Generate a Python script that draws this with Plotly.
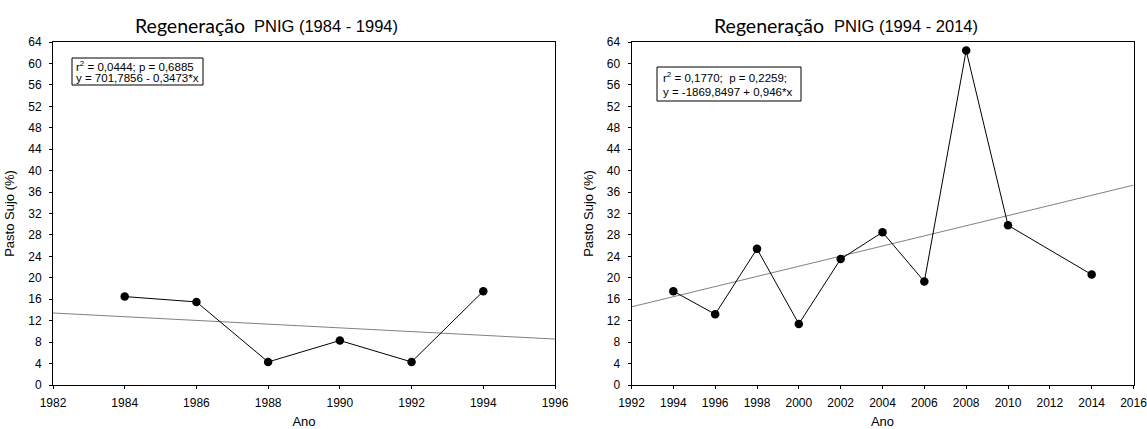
import plotly.graph_objects as go

# Left panel data (1984 - 1994)
years_a = [1984, 1986, 1988, 1990, 1992, 1994]
vals_a = [16.5, 15.5, 4.3, 8.3, 4.3, 17.5]
fit_a = (701.7856, -0.3473)  # intercept, slope
xrange_a = [1982, 1996]

# Right panel data (1994 - 2014)
years_b = [1994, 1996, 1998, 2000, 2002, 2004, 2006, 2008, 2010, 2014]
vals_b = [17.5, 13.2, 25.4, 11.4, 23.5, 28.5, 19.3, 62.4, 29.8, 20.6]
fit_b = (-1869.8497, 0.946)
xrange_b = [1992, 2016]

yrange = [0, 64]
ytick_vals = list(range(0, 65, 4))

title_main = "Regeneração"
titles = ["PNIG (1984 - 1994)", "PNIG (1994 - 2014)"]
stat_line1 = ["r<sup>2</sup> = 0,0444; p = 0,6885", "r<sup>2</sup> = 0,1770;  p = 0,2259;"]
stat_line2 = ["y = 701,7856 - 0,3473*x", "y = -1869,8497 + 0,946*x"]

ARIAL = "Liberation Sans, Arial, sans-serif"
W, H = 1147, 429

def px(x):
    return x / W

def py(y):
    return 1 - y / H

fig = go.Figure()

for i, (yrs, vals, fit, xr) in enumerate([(years_a, vals_a, fit_a, xrange_a),
                                         (years_b, vals_b, fit_b, xrange_b)]):
    xa = "x" if i == 0 else "x2"
    ya = "y" if i == 0 else "y2"
    fx = [xr[0], xr[1]]
    fy = [fit[0] + fit[1] * v for v in fx]
    fig.add_trace(go.Scatter(x=fx, y=fy, mode="lines", xaxis=xa, yaxis=ya,
                             line=dict(color="#808080", width=1), showlegend=False,
                             hoverinfo="skip"))
    fig.add_trace(go.Scatter(x=yrs, y=vals, mode="lines+markers", xaxis=xa, yaxis=ya,
                             line=dict(color="black", width=1),
                             marker=dict(color="black", size=8.5), showlegend=False))

font_tick = dict(family=ARIAL, size=12, color="black")
axis_common = dict(showline=True, mirror=True, linecolor="black", linewidth=1,
                   ticks="outside", ticklen=3, tickcolor="black", tickwidth=1,
                   showgrid=False, zeroline=False, tickfont=font_tick, automargin=False,
                   ticklabeloverflow="allow",
                   title_font=dict(family=ARIAL, size=13, color="black"))

Y0, Y1 = py(385), py(42)
fig.update_layout(
    template="none",
    width=W, height=H, margin=dict(l=0, r=0, t=0, b=0, pad=0), autosize=False,
    paper_bgcolor="white", plot_bgcolor="white",
    font=dict(family=ARIAL, color="black"),
    xaxis=dict(domain=[px(53), px(555)], range=xrange_a, tickmode="linear", tick0=1982, dtick=2,
               ticklabelstandoff=4, title=dict(text="Ano", standoff=8), anchor="y", **axis_common),
    yaxis=dict(domain=[Y0, Y1], range=yrange, tickvals=ytick_vals, ticklabelstandoff=5,
               title=dict(text="Pasto Sujo (%)", standoff=10), anchor="x", **axis_common),
    xaxis2=dict(domain=[px(631.5), px(1133.5)], range=xrange_b, tickmode="linear", tick0=1992, dtick=2,
                ticklabelstandoff=4, title=dict(text="Ano", standoff=8), anchor="y2", **axis_common),
    yaxis2=dict(domain=[Y0, Y1], range=yrange, tickvals=ytick_vals, ticklabelstandoff=5,
                title=dict(text="Pasto Sujo (%)", standoff=10), anchor="x2", **axis_common),
)

# Titles (two fonts)
main_left = [133, 712]
sub_left = [252, 832]
for i in range(2):
    fig.add_annotation(x=px(main_left[i]), y=py(25.5), xref="paper", yref="paper", showarrow=False,
                       text=title_main, font=dict(family="Lato, sans-serif", size=19.5, color="black"),
                       xanchor="left", yanchor="middle")
    fig.add_annotation(x=px(sub_left[i]), y=py(26), xref="paper", yref="paper", showarrow=False,
                       text=titles[i], font=dict(family=ARIAL, size=16.5, color="black"),
                       xanchor="left", yanchor="middle")

# Statistics boxes
boxes = [(72, 58, 203, 85), (657, 67, 801, 101)]
line_y = [(66.0, 78.5), (76.5, 92.5)]
text_x = [74, 661]
for i in range(2):
    x0, y0, x1, y1 = boxes[i]
    fig.add_shape(type="rect", xref="paper", yref="paper", x0=px(x0), x1=px(x1), y0=py(y0), y1=py(y1),
                  line=dict(color="black", width=1), fillcolor="white", layer="above")
    fig.add_annotation(x=px(text_x[i]), y=py(line_y[i][0]), xref="paper", yref="paper", showarrow=False,
                       text=stat_line1[i], xanchor="left", yanchor="middle",
                       font=dict(family=ARIAL, size=11.5, color="black"))
    fig.add_annotation(x=px(text_x[i]), y=py(line_y[i][1]), xref="paper", yref="paper", showarrow=False,
                       text=stat_line2[i], xanchor="left", yanchor="middle",
                       font=dict(family=ARIAL, size=11.5, color="black"))

fig.write_html("out.html", post_script="document.body.style.margin='0';")
